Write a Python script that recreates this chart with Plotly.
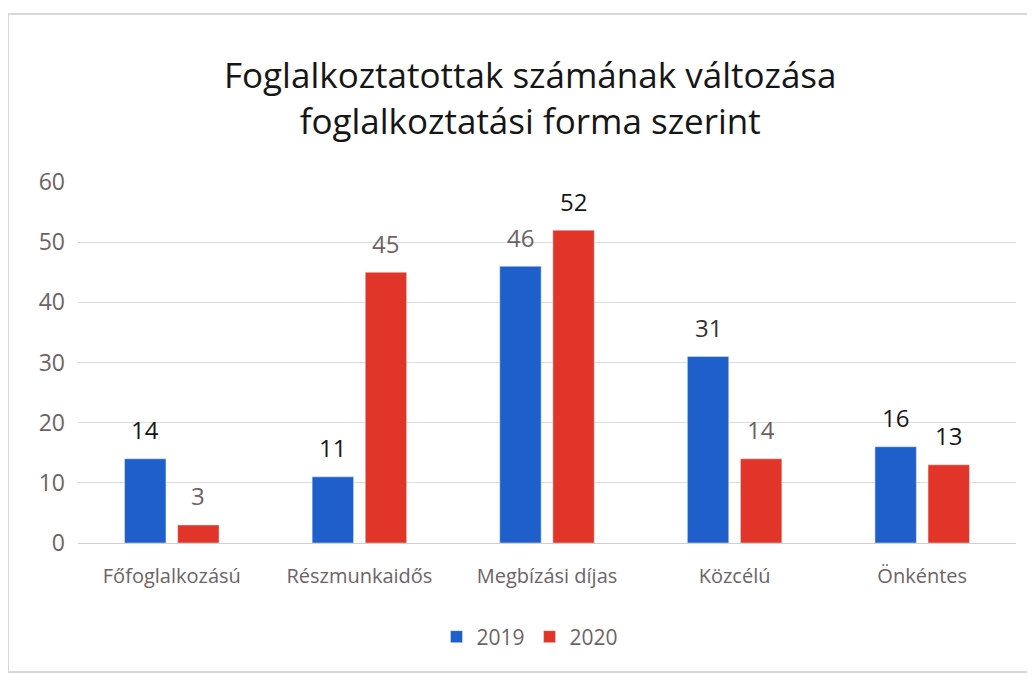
import plotly.graph_objects as go

categories = ["Főfoglalkozású", "Részmunkaidős", "Megbízási díjas", "Közcélú", "Önkéntes"]
values_2019 = [14, 11, 46, 31, 16]
values_2020 = [3, 45, 52, 14, 13]
series_names = ["2019", "2020"]
title_lines = ["Foglalkoztatottak számának változása", "foglalkoztatási forma szerint"]

FONT = "'Open Sans', Lato, sans-serif"
BLUE = "#1f5fcc"
RED = "#e2352a"
GRAY_TXT = "#6e6265"
DARK = "#161616"
label_colors_2019 = [DARK, DARK, GRAY_TXT, "#333333", DARK]
label_colors_2020 = [GRAY_TXT, GRAY_TXT, DARK, GRAY_TXT, DARK]

# page has an 8px body margin; figure coordinates are page coordinates minus 8
OFF = 8
W, H = 1035 - OFF, 677 - OFF
L = 78 - OFF
T = 182 - OFF
R = W - (1016 - OFF)
B = H - (543 - OFF)
pw = W - L - R
ph = H - T - B

def px_x(page_x):
    return (page_x - OFF - L) / pw

def px_y(page_y):
    return (H - B - (page_y - OFF)) / ph

fig = go.Figure()
fig.add_trace(go.Bar(x=categories, y=values_2019, name=series_names[0], marker_color=BLUE))
fig.add_trace(go.Bar(x=categories, y=values_2020, name=series_names[1], marker_color=RED))

cat_px = pw / len(categories)
offset_px = cat_px * (1 - 0.434) / 4
annotations = []
for c, v, col in zip(categories, values_2019, label_colors_2019):
    annotations.append(dict(x=c, y=v, xref="x", yref="y", text=str(v), showarrow=False,
                            xshift=-offset_px, yshift=29, font=dict(family=FONT, size=24, color=col)))
for c, v, col in zip(categories, values_2020, label_colors_2020):
    annotations.append(dict(x=c, y=v, xref="x", yref="y", text=str(v), showarrow=False,
                            xshift=offset_px, yshift=29, font=dict(family=FONT, size=24, color=col)))
annotations.append(dict(x=px_x(530), y=px_y(97), xref="paper", yref="paper",
                        xanchor="center", yanchor="middle",
                        text="<br>".join(title_lines), showarrow=False,
                        font=dict(family=FONT, size=35, color=DARK)))

fig.update_layout(
    width=W, height=H,
    margin=dict(l=L, r=R, t=T, b=B),
    paper_bgcolor="white", plot_bgcolor="white",
    barmode="group", bargap=0.434, bargroupgap=0.22,
    font=dict(family=FONT, color=GRAY_TXT),
    showlegend=True,
    legend=dict(orientation="h", x=px_x(530), xanchor="center", y=px_y(637), yanchor="middle",
                font=dict(family=FONT, size=21, color=GRAY_TXT), itemwidth=30, traceorder="normal"),
    annotations=annotations,
    shapes=[dict(type="rect", xref="paper", yref="paper",
                 x0=px_x(8), x1=px_x(1030), y0=px_y(672), y1=px_y(14),
                 line=dict(color="#d8d8d8", width=2), layer="below")],
)
fig.update_yaxes(range=[0, 60], dtick=10, showgrid=True, gridcolor="#dcdcdc", gridwidth=1,
                 zeroline=True, zerolinecolor="#d0d0d0", zerolinewidth=1, showline=False,
                 tickfont=dict(family=FONT, size=23, color=GRAY_TXT), ticklabelstandoff=12)
fig.update_xaxes(showline=False, showgrid=False,
                 tickfont=dict(family=FONT, size=20, color=GRAY_TXT), ticklabelstandoff=19)

fig.write_html("out.html")
